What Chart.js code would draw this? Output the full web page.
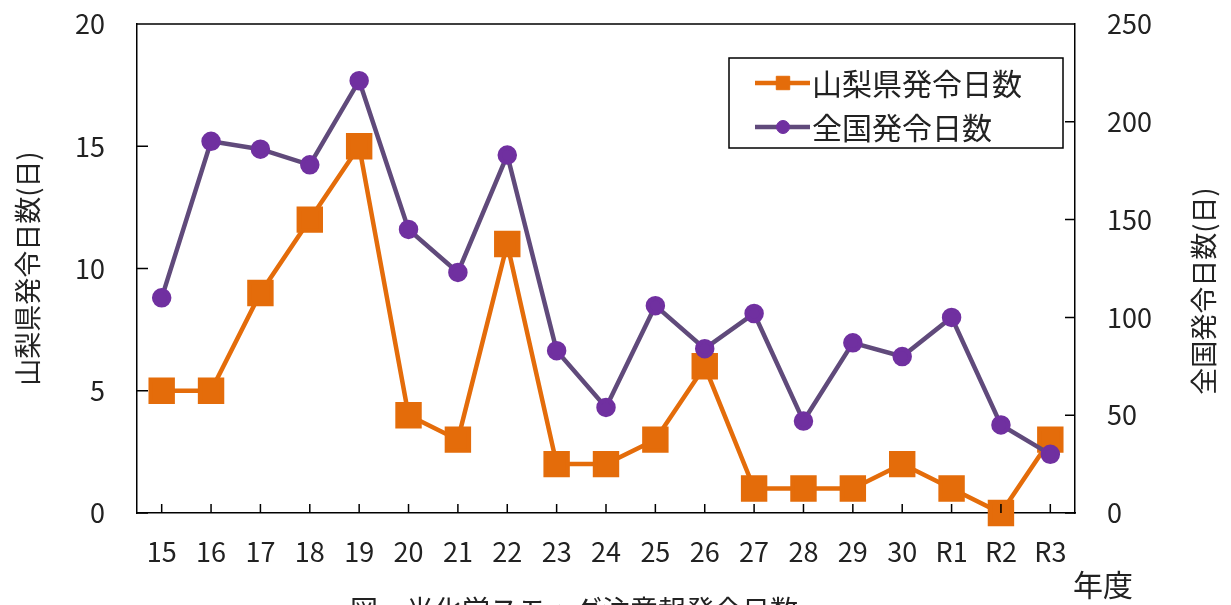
<!DOCTYPE html>
<html lang="ja">
<head>
<meta charset="utf-8">
<script src="https://cdn.jsdelivr.net/npm/chart.js@4.4.1/dist/chart.umd.min.js"></script>
<style>
html, body { margin: 0; padding: 0; background: #fff; overflow: hidden; }
#wrap { width: 1231px; height: 605px; }
</style>
</head>
<body>
<div id="wrap"><canvas id="chart" width="1231" height="605"></canvas></div>
<script>
// 年度ごとの発令日数
const years = ['15', '16', '17', '18', '19', '20', '21', '22', '23', '24', '25', '26', '27', '28', '29', '30', 'R1', 'R2', 'R3'];
const yamanashiDays = [5, 5, 9, 12, 15, 4, 3, 11, 2, 2, 3, 6, 1, 1, 1, 2, 1, 0, 3];
const nationalDays = [110, 190, 186, 178, 221, 145, 123, 183, 83, 54, 106, 84, 102, 47, 87, 80, 100, 45, 30];
const leftTicks = [0, 5, 10, 15, 20];
const rightTicks = [0, 50, 100, 150, 200, 250];

const FONT = "'Noto Sans CJK JP', 'Noto Sans', sans-serif";
const TEXT = '#222';
const ORANGE = '#E46C0A';
const PURPLE_LINE = '#604A7B';
const PURPLE_PT = '#7030A0';

// keep the plot top at 24px whatever the tick padding is
function fixPadding(axis, w) {
    axis.width = w;
    axis.paddingTop = 24;
    axis.paddingBottom = 0;
}

// inward ticks, top frame line, right title, legend box, captions
const extras = {
    id: 'extras',
    afterDraw(chart) {
        const ctx = chart.ctx;
        const a = chart.chartArea;
        const x = chart.scales.x, y = chart.scales.y, y1 = chart.scales.y1;
        ctx.save();
        ctx.strokeStyle = '#000';
        ctx.lineWidth = 1.5;
        ctx.beginPath();
        ctx.moveTo(a.left, a.top);
        ctx.lineTo(a.right, a.top);
        x.ticks.forEach((t, i) => {
            let px = x.getPixelForTick(i);
            ctx.moveTo(px, a.bottom);
            ctx.lineTo(px, a.bottom - 9);
        });
        y.ticks.forEach((t, i) => {
            let py = y.getPixelForTick(i);
            ctx.moveTo(a.left, py);
            ctx.lineTo(a.left + 11, py);
        });
        y1.ticks.forEach((t, i) => {
            let py = y1.getPixelForTick(i);
            ctx.moveTo(a.right, py);
            ctx.lineTo(a.right - 10, py);
        });
        ctx.stroke();

        // right axis title (reads bottom to top)
        ctx.fillStyle = TEXT;
        ctx.font = '27px ' + FONT;
        ctx.textAlign = 'center';
        ctx.textBaseline = 'middle';
        ctx.save();
        ctx.translate(1204, 291);
        ctx.rotate(-Math.PI / 2);
        ctx.fillText('全国発令日数(日)', 0, 0);
        ctx.restore();

        // legend
        ctx.lineWidth = 1.5;
        ctx.strokeStyle = '#000';
        ctx.fillStyle = '#fff';
        ctx.fillRect(729, 58, 334, 90);
        ctx.strokeRect(729, 58, 334, 90);
        const rows = [0, 1].map(i => chart.data.datasets[i]);
        rows.forEach((ds, i) => {
            const cy = 83 + i * 44;
            ctx.strokeStyle = ds.borderColor;
            ctx.lineWidth = 4.5;
            ctx.beginPath();
            ctx.moveTo(755, cy);
            ctx.lineTo(810, cy);
            ctx.stroke();
            ctx.fillStyle = ds.pointBackgroundColor;
            ctx.strokeStyle = ds.pointBorderColor;
            ctx.lineWidth = 1;
            Chart.helpers.drawPoint(ctx, {pointStyle: ds.pointStyle, radius: ds.pointStyle === 'rect' ? 9.5 : 6.5, rotation: 0, borderWidth: 1}, 783, cy);
            ctx.fillStyle = TEXT;
            ctx.font = '30px ' + FONT;
            ctx.textAlign = 'left';
            ctx.textBaseline = 'middle';
            ctx.fillText(ds.label, 812, cy + 1);
        });

        // 年度 and figure caption
        ctx.fillStyle = TEXT;
        ctx.font = '30px ' + FONT;
        ctx.textAlign = 'center';
        ctx.textBaseline = 'middle';
        ctx.fillText('年度', 1103, 585);
        ctx.font = '28px ' + FONT;
        ctx.textAlign = 'left';
        ctx.textBaseline = 'top';
        ctx.fillText('図　光化学スモッグ注意報発令日数', 350, 596);
        ctx.restore();
    }
};

const ctx = document.getElementById('chart').getContext('2d');
const chart = new Chart(ctx, {
    type: 'line',
    data: {
        labels: years,
        datasets: [
            {
                label: '山梨県発令日数',
                data: yamanashiDays,
                yAxisID: 'y',
                borderColor: ORANGE,
                backgroundColor: ORANGE,
                pointBackgroundColor: ORANGE,
                pointBorderColor: ORANGE,
                borderWidth: 4.5,
                pointStyle: 'rect',
                pointRadius: 15.5,
                pointHoverRadius: 15.5,
                tension: 0,
                clip: false,
                order: 1
            },
            {
                label: '全国発令日数',
                data: nationalDays,
                yAxisID: 'y1',
                borderColor: PURPLE_LINE,
                backgroundColor: PURPLE_PT,
                pointBackgroundColor: PURPLE_PT,
                pointBorderColor: PURPLE_PT,
                borderWidth: 4.5,
                pointStyle: 'circle',
                pointRadius: 7.5,
                pointHoverRadius: 7.5,
                tension: 0,
                clip: false,
                order: 0
            }
        ]
    },
    options: {
        responsive: false,
        animation: false,
        layout: { padding: 0 },
        plugins: {
            legend: { display: false },
            tooltip: { enabled: false }
        },
        scales: {
            x: {
                offset: true,
                grid: { display: false, drawTicks: false },
                border: { display: true, color: '#000', width: 1.5 },
                ticks: { color: TEXT, font: { family: FONT, size: 27 }, padding: 23, maxRotation: 0, autoSkip: false },
                afterFit: (axis) => { axis.height = 92; axis.paddingLeft = 0; axis.paddingRight = 0; }
            },
            y: {
                position: 'left',
                min: leftTicks[0],
                max: leftTicks[leftTicks.length - 1],
                afterBuildTicks: (axis) => { axis.ticks = leftTicks.map(v => ({value: v})); },
                grid: { display: false, drawTicks: false },
                border: { display: true, color: '#000', width: 1.5 },
                ticks: { color: TEXT, font: { family: FONT, size: 27 }, padding: 32 },
                title: {
                    display: true,
                    text: '山梨県発令日数(日)',
                    color: TEXT,
                    font: { family: FONT, size: 27 },
                    padding: { top: 12, bottom: 0 }
                },
                afterFit: (axis) => fixPadding(axis, 137)
            },
            y1: {
                position: 'right',
                min: rightTicks[0],
                max: rightTicks[rightTicks.length - 1],
                afterBuildTicks: (axis) => { axis.ticks = rightTicks.map(v => ({value: v})); },
                grid: { display: false, drawTicks: false },
                border: { display: true, color: '#000', width: 1.5 },
                ticks: { color: TEXT, font: { family: FONT, size: 27 }, padding: 32 },
                afterFit: (axis) => fixPadding(axis, 156)
            }
        }
    },
    plugins: [extras]
});
</script>
</body>
</html>
